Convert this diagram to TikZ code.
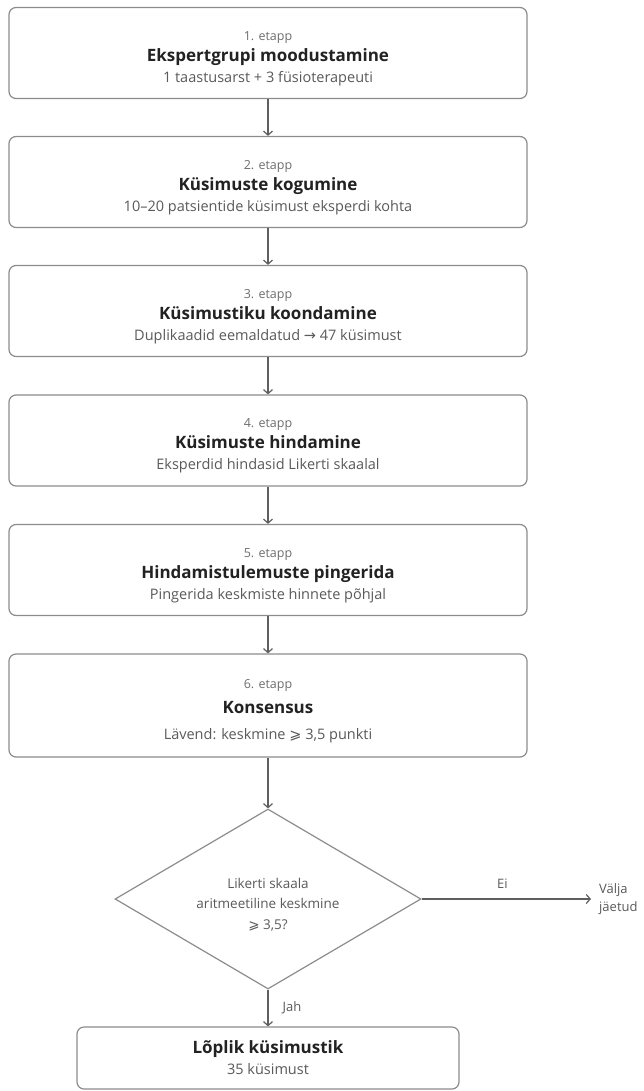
\documentclass[tikz,border=0pt]{standalone}
\usepackage{fontspec}
\setmainfont{Open Sans}
\newfontfamily\symfont{DejaVu Sans}
\usetikzlibrary{shapes.geometric,arrows.meta}

\definecolor{linegray}{HTML}{8C8C8C}
\definecolor{arrowgray}{HTML}{5F5F5F}
\definecolor{labelgray}{HTML}{6E6E6E}
\definecolor{titleink}{HTML}{222222}
\definecolor{subgray}{HTML}{5A5A5A}

\newcommand{\stagetext}[3]{\rule{0pt}{20pt}{\fontsize{12.5}{21}\selectfont\color{labelgray}#1}\\{\fontsize{17}{21}\selectfont\bfseries\color{titleink}#2}\\{\color{subgray}#3}}
\newcommand{\atleast}{{\symfont ⩾}}
\newcommand{\toarrow}{{\symfont →}}

\tikzset{
  stagebox/.style={draw=linegray, line width=1.2pt, rounded corners=7pt, fill=white,
    minimum width=518pt, minimum height=91pt, inner sep=0pt, align=center,
    font=\fontsize{14.5}{21}\selectfont},
  flow/.style={draw=arrowgray, line width=1.2pt, -{Straight Barb[length=4pt,width=9pt]}},
  decision/.style={draw=linegray, line width=1.2pt, shape=diamond, aspect=2, inner sep=0pt,
    minimum width=306pt, minimum height=180pt, align=center,
    font=\fontsize{13.5}{20.5}\selectfont, text=subgray},
  plain/.style={font=\fontsize{13}{18}\selectfont, text=subgray, inner sep=0pt}
}

\begin{document}
\begin{tikzpicture}[x=1pt, y=-1pt]
\useasboundingbox (0,0) rectangle (644,1091);

% Stages
\node[stagebox] (s1) at (268,53) {\stagetext{1. etapp}{Ekspertgrupi moodustamine}{1 taastusarst + 3 füsioterapeuti}};
\node[stagebox] (s2) at (268,182) {\stagetext{2. etapp}{Küsimuste kogumine}{10–20 patsientide küsimust eksperdi kohta}};
\node[stagebox] (s3) at (268,311) {\stagetext{3. etapp}{Küsimustiku koondamine}{Duplikaadid eemaldatud \toarrow{} 47 küsimust}};
\node[stagebox] (s4) at (268,440.5) {\stagetext{4. etapp}{Küsimuste hindamine}{Eksperdid hindasid Likerti skaalal}};
\node[stagebox] (s5) at (268,570) {\stagetext{5. etapp}{Hindamistulemuste pingerida}{Pingerida keskmiste hinnete põhjal}};
\node[stagebox, minimum height=103pt, font=\fontsize{14.5}{25.5}\selectfont] (s6) at (268,705.5) {\stagetext{6. etapp}{Konsensus}{Lävend: keskmine \atleast{} 3,5 punkti}};

% Decision
\node[decision] (check) at (268,899) {\rule{0pt}{21pt}Likerti skaala\\aritmeetiline keskmine\\\atleast{} 3,5?};
\node[plain, inner xsep=8pt, anchor=west, align=left] (out) at (check.east -| 591,0) {Välja\\jäetud};

% Result
\node[stagebox, minimum width=382pt, minimum height=62pt] (final) at (268,1058)
  {{\fontsize{17}{21}\selectfont\bfseries\color{titleink}Lõplik küsimustik}\\{\color{subgray}35 küsimust}};

% Arrows
\draw[flow] (s1.south) -- (s2.north);
\draw[flow] (s2.south) -- (s3.north);
\draw[flow] (s3.south) -- (s4.north);
\draw[flow] (s4.south) -- (s5.north);
\draw[flow] (s5.south) -- (s6.north);
\draw[flow] (s6.south) -- (check.north);
\draw[flow] (check.east) -- (out.west) node[plain, midway, above=10pt, xshift=-4pt] (no) {Ei};
\draw[flow] (check.south) -- (final.north) node[plain, pos=0.5, right=14pt] (yes) {Jah};
\end{tikzpicture}
\end{document}
